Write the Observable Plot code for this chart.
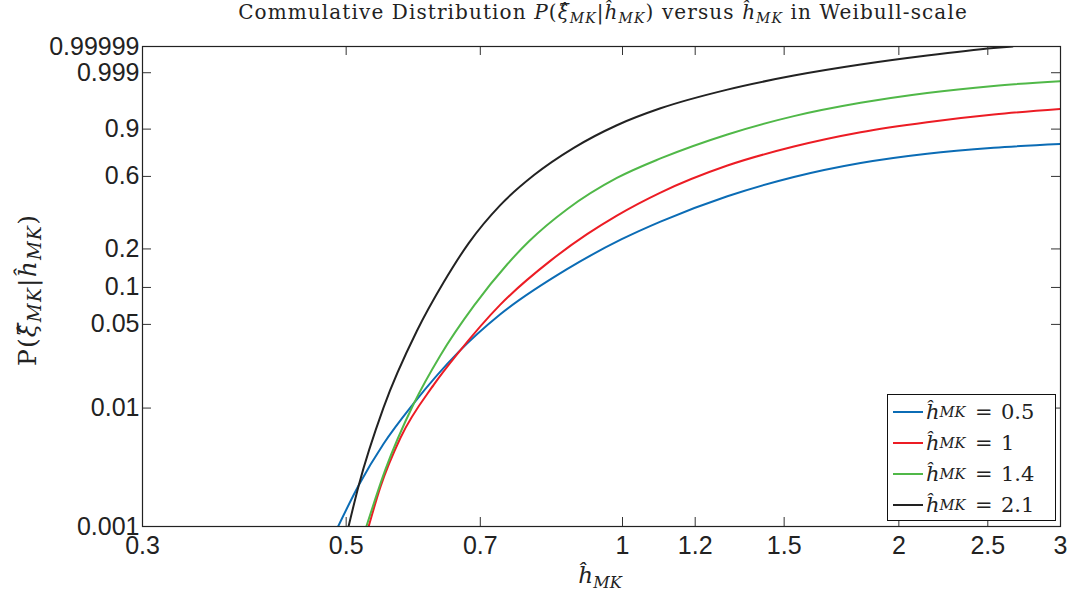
<!DOCTYPE html>
<html><head><meta charset="utf-8">
<script src="https://cdn.jsdelivr.net/npm/d3@7"></script>
<script src="https://cdn.jsdelivr.net/npm/@observablehq/plot@0.6"></script>
<style>
html,body{margin:0;padding:0;background:#fff;}
#wrap{position:relative;width:1077px;height:597px;overflow:hidden;font-family:"DejaVu Serif",serif;color:#222;}
#title{position:relative;height:28px;width:1077px;}
#title span.t{position:absolute;left:603px;top:2px;transform:translateX(-50%);font-size:20px;line-height:20px;letter-spacing:1.1px;white-space:nowrap;}
#chart svg{overflow:visible;display:block;}
.m{font-style:italic;}
.sub{font-size:70%;font-style:italic;vertical-align:-0.3em;line-height:0;}
#ylab{position:absolute;left:27px;top:290px;transform:translate(-50%,-50%) rotate(-90deg);font-size:25px;letter-spacing:1.2px;white-space:nowrap;}
#ylab .sub{font-size:74%;}
#xlab{position:absolute;left:600px;top:575px;transform:translate(-50%,-50%);font-size:23px;white-space:nowrap;}
#legend{position:absolute;left:887px;top:394px;width:169px;height:127px;border:1px solid #111;background:#fff;box-sizing:border-box;padding-top:1px;}
.row{display:flex;align-items:center;height:31px;font-size:21px;white-space:nowrap;}
.sw{width:30px;height:2px;margin-left:5px;margin-right:3px;}
.eq{margin:0 0.4em 0 0.45em;}
</style></head><body>
<div id="wrap">
<div id="title"><span class="t">Commulative Distribution <span class="m">P</span>(<span class="m">ξ̂</span><span class="sub">MK</span>|<span class="m">ĥ</span><span class="sub">MK</span>) versus <span class="m">ĥ</span><span class="sub">MK</span> in Weibull-scale</span></div>
<div id="chart"></div>
<div id="ylab">P(<span class="m">ξ̂</span><span class="sub">MK</span>|<span class="m">ĥ</span><span class="sub">MK</span>)</div>
<div id="xlab"><span class="m">ĥ</span><span class="sub">MK</span></div>
<div id="legend"></div>
</div>
<script>
// ---- data ----
const xTicks = [0.3, 0.5, 0.7, 1, 1.2, 1.5, 2, 2.5, 3];
const yTicks = [0.001, 0.01, 0.05, 0.1, 0.2, 0.6, 0.9, 0.999, 0.99999];
const yTickLabels = ["0.001", "0.01", "0.05", "0.1", "0.2", "0.6", "0.9", "0.999", "0.99999"];
const seriesNames = ["0.5", "1", "1.4", "2.1"];
const seriesColors = ["#0b6cb5", "#ec1c24", "#50b848", "#222222"];

const hBlue = [0.490, 0.516, 0.549, 0.592, 0.663, 0.736, 0.871, 0.998, 1.1, 1.301, 1.537, 1.817, 2.147, 2.537, 3.0];
const pBlue = [0.001, 0.002232, 0.004975, 0.010888, 0.029559, 0.060487, 0.14028, 0.2364, 0.31617, 0.46331, 0.59612, 0.69609, 0.76018, 0.7985, 0.82184];

const hRed = [0.529, 0.545, 0.573, 0.623, 0.663, 0.736, 0.835, 0.915, 0.986, 1.1, 1.301, 1.537, 1.817, 2.147, 2.537, 3.0];
const pRed = [0.001, 0.00217, 0.00562, 0.01573, 0.0293, 0.07262, 0.1628, 0.2572, 0.3477, 0.4877, 0.6777, 0.806, 0.8855, 0.9282, 0.9531, 0.9668];

const hGreen = [0.526, 0.5518, 0.592, 0.633, 0.689, 0.749, 0.791, 0.871, 0.986, 1.1, 1.301, 1.537, 1.817, 2.147, 2.537, 3.0];
const pGreen = [0.001, 0.003035, 0.010763, 0.0275, 0.07125, 0.1526, 0.2281, 0.38483, 0.58901, 0.72756, 0.87459, 0.94851, 0.97859, 0.99055, 0.99522, 0.99717];

const hBlack = [0.503, 0.516, 0.549, 0.597, 0.639, 0.680, 0.736, 0.801, 0.885, 0.986, 1.1, 1.301, 1.537, 1.817, 2.147, 2.537, 2.66];
const pBlack = [0.001, 0.002224, 0.010037, 0.04405, 0.1109, 0.2212, 0.408, 0.6097, 0.7979, 0.9166, 0.96836, 0.99307, 0.998543, 0.999695, 0.9999354, 0.9999858, 0.99999];

// ---- build ----
const weib = p => Math.log(-Math.log(1 - p));
const seriesH = [hBlue, hRed, hGreen, hBlack];
const seriesP = [pBlue, pRed, pGreen, pBlack];
const rows = [];
seriesNames.forEach((s, i) => seriesH[i].forEach((h, j) => rows.push({series: s, h, p: seriesP[i][j]})));

const W = 1077, H = 569, mt = 18, mb = 71, ml = 142, mr = 17;
const fw = W - ml - mr, fh = H - mt - mb;
const tickLen = 9;

const chart = Plot.plot({
  width: W, height: H,
  marginTop: mt, marginBottom: mb, marginLeft: ml, marginRight: mr,
  x: {type: "log", domain: [0.3, 3], axis: null},
  y: {type: "linear", domain: [weib(0.001), weib(0.99999)], axis: null},
  color: {domain: seriesNames, range: seriesColors},
  style: {fontFamily: "'Liberation Sans', Arial, sans-serif", background: "#fff", overflow: "visible"},
  marks: [
    Plot.line(rows, {x: "h", y: d => weib(d.p), stroke: "series", z: "series", strokeWidth: 2, curve: "monotone-x", clip: true}),
    Plot.tickX(xTicks, {x: d => d, insetTop: fh - tickLen, stroke: "#333", strokeWidth: 1}),
    Plot.tickX(xTicks, {x: d => d, insetBottom: fh - tickLen, stroke: "#333", strokeWidth: 1}),
    Plot.tickY(yTicks, {y: weib, insetRight: fw - tickLen, stroke: "#333", strokeWidth: 1}),
    Plot.tickY(yTicks, {y: weib, insetLeft: fw - tickLen, stroke: "#333", strokeWidth: 1}),
    Plot.frame({stroke: "#222", strokeWidth: 1.2}),
    Plot.text(yTicks, {y: weib, text: (d, i) => yTickLabels[i], frameAnchor: "left", textAnchor: "end", dx: -3, fontSize: 25, fill: "#222", lineAnchor: "middle"}),
    Plot.text(xTicks, {x: d => d, text: d => String(d), frameAnchor: "bottom", dy: 19, fontSize: 25, fill: "#222", lineAnchor: "middle"})
  ]
});
document.getElementById("chart").appendChild(chart);

// legend
const leg = document.getElementById("legend");
seriesNames.forEach((s, i) => {
  const r = document.createElement("div");
  r.className = "row";
  r.innerHTML = `<div class="sw" style="background:${seriesColors[i]}"></div><span class="m">ĥ</span><span class="sub">MK</span><span class="eq">=</span><span>${s}</span>`;
  leg.appendChild(r);
});
</script>
</body></html>
